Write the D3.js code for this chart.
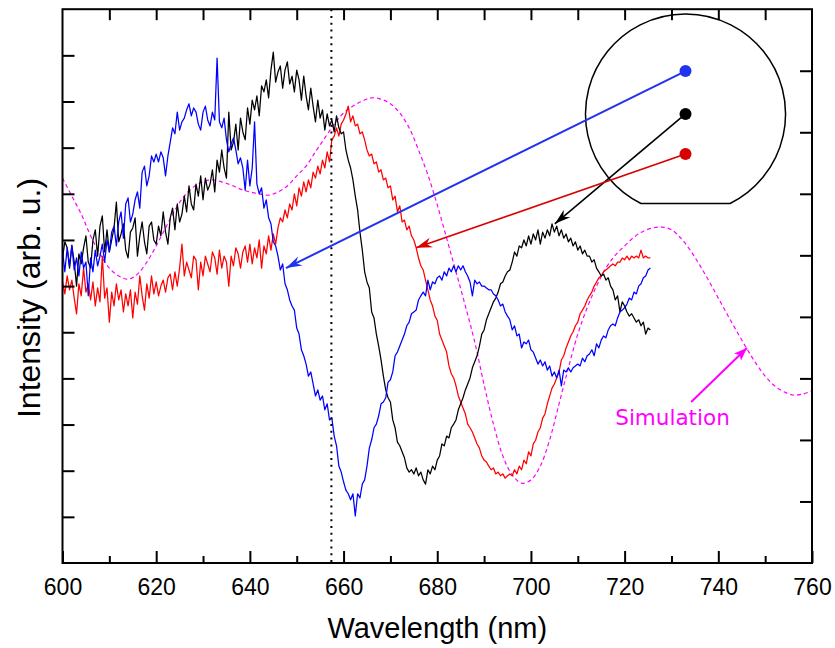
<!DOCTYPE html>
<html>
<head>
<meta charset="utf-8">
<script src="https://cdn.jsdelivr.net/npm/d3@7"></script>
<style>
  html, body { margin: 0; padding: 0; background: #ffffff; }
  svg { display: block; }
</style>
</head>
<body>
<svg id="chart" width="835" height="648"></svg>
<script>
// Measured spectra, sampled every 0.5 nm starting at 600 nm (arb. u.)
const spectrumStart = 600;
const spectrumStep = 0.5;

const blueSpectrum = [
  678, 631, 683, 644, 689, 635, 661, 622, 674, 639, 652, 579, 661, 631, 678, 644, 665, 691, 652, 700,
  674, 717, 730, 687, 739, 761, 704, 778, 791, 739, 756, 787, 804, 769, 847, 860, 817, 839, 882, 869,
  886, 869, 891, 878, 839, 882, 912, 943, 930, 977, 938, 956, 964, 982, 995, 969, 986, 977, 951, 938,
  977, 990, 960, 947, 977, 960, 1094, 956, 943, 964, 917, 891, 908, 921, 895, 865, 878, 856, 808, 873,
  817, 856, 956, 821, 800, 813, 769, 787, 748, 735, 696, 687, 665, 635, 648, 605, 592, 570, 557, 548,
  509, 496, 462, 449, 431, 405, 414, 388, 362, 375, 353, 362, 332, 345, 310, 314, 275, 254, 210, 197,
  176, 158, 150, 137, 150, 102, 150, 141, 171, 180, 210, 249, 267, 293, 301, 319, 345, 349, 358, 392,
  397, 414, 449, 457, 470, 483, 496, 514, 522, 540, 544, 548, 570, 579, 587, 579, 613, 592, 609, 605,
  618, 622, 613, 631, 622, 639, 631, 644, 631, 644, 635, 644, 631, 622, 609, 579, 613, 605, 609, 600,
  600, 596, 592, 592, 583, 579, 570, 557, 561, 544, 535, 527, 505, 514, 492, 496, 466, 479, 475, 483,
  462, 457, 444, 431, 440, 427, 436, 418, 427, 405, 414, 401, 418, 384, 418, 414, 423, 414, 423, 427,
  431, 427, 444, 436, 449, 453, 462, 449, 475, 466, 483, 492, 488, 505, 514, 518, 514, 531, 544, 548,
  553, 561, 574, 570, 587, 583, 600, 605, 618, 622, 635, 639
];

const blackSpectrum = [
  661, 696, 683, 639, 687, 652, 600, 670, 648, 683, 709, 652, 639, 700, 722, 665, 730, 752, 674, 722,
  674, 700, 726, 782, 696, 713, 735, 678, 661, 717, 726, 748, 665, 709, 739, 696, 670, 730, 739, 700,
  691, 730, 709, 761, 717, 691, 748, 769, 722, 778, 739, 756, 795, 761, 817, 778, 765, 821, 795, 839,
  787, 834, 808, 821, 852, 804, 873, 847, 895, 856, 834, 977, 895, 912, 951, 895, 964, 934, 917, 986,
  951, 1003, 982, 1012, 969, 1034, 1021, 1047, 1008, 1068, 1107, 1042, 1064, 1077, 1029, 1068, 1086, 1038, 1055, 1021,
  1068, 1047, 1003, 1055, 1012, 982, 1029, 990, 956, 1003, 964, 982, 938, 973, 947, 960, 934, 969, 943, 930,
  934, 895, 873, 856, 830, 795, 765, 717, 678, 631, 609, 596, 544, 531, 496, 470, 440, 405, 375, 358,
  349, 310, 293, 262, 254, 241, 228, 206, 197, 202, 193, 206, 189, 197, 180, 171, 202, 193, 210, 202,
  223, 232, 258, 254, 275, 271, 293, 301, 310, 332, 345, 358, 375, 388, 401, 423, 436, 449, 470, 496,
  505, 527, 540, 553, 566, 574, 587, 605, 609, 622, 631, 635, 652, 674, 665, 687, 683, 700, 687, 709,
  691, 713, 700, 722, 691, 717, 704, 722, 709, 735, 717, 730, 709, 722, 704, 713, 696, 704, 687, 696,
  678, 687, 670, 678, 665, 665, 652, 657, 639, 631, 622, 626, 613, 618, 600, 592, 570, 579, 544, 566,
  557, 544, 535, 540, 531, 522, 527, 514, 522, 496, 509, 505
];

const redSpectrum = [
  609, 583, 622, 592, 613, 574, 540, 605, 579, 639, 587, 605, 570, 609, 557, 596, 566, 665, 574, 596,
  522, 587, 557, 605, 570, 592, 544, 583, 557, 592, 531, 587, 561, 622, 579, 548, 605, 574, 622, 583,
  609, 579, 600, 613, 587, 618, 626, 592, 631, 600, 639, 691, 622, 652, 635, 618, 665, 657, 592, 652,
  622, 665, 648, 631, 674, 661, 626, 678, 639, 665, 652, 600, 665, 644, 683, 670, 639, 674, 687, 652,
  691, 648, 683, 661, 700, 639, 687, 670, 709, 678, 713, 691, 726, 748, 739, 765, 748, 778, 765, 800,
  774, 813, 795, 826, 804, 830, 813, 847, 834, 860, 843, 873, 856, 891, 869, 917, 925, 943, 925, 951,
  960, 973, 990, 956, 969, 947, 951, 930, 934, 917, 895, 882, 886, 865, 869, 847, 852, 830, 834, 813,
  817, 787, 795, 761, 774, 739, 743, 722, 730, 709, 700, 683, 661, 644, 635, 613, 592, 570, 557, 535,
  526, 496, 483, 470, 457, 427, 410, 401, 384, 362, 349, 336, 323, 301, 293, 284, 271, 258, 249, 232,
  223, 219, 210, 202, 206, 193, 197, 189, 193, 184, 189, 193, 189, 202, 193, 210, 202, 223, 215, 241,
  232, 258, 266, 284, 293, 314, 323, 345, 362, 379, 388, 401, 414, 440, 449, 466, 479, 492, 501, 514,
  522, 540, 548, 557, 570, 579, 587, 600, 609, 618, 622, 631, 635, 639, 644, 648, 644, 652, 652, 661,
  657, 665, 657, 665, 661, 665, 661, 678, 661, 665, 661, 661
];

// Simulated spectrum, every 2 nm from 600 nm to 760 nm
const simulationStart = 600;
const simulationStep = 2;
const simulationSpectrum = [
  834, 795, 756, 709, 670, 639, 622, 615, 626, 652,
  687, 726, 765, 795, 815, 826, 830, 826, 819, 810,
  804, 800, 797, 804, 817, 839, 860, 891, 921, 951,
  975, 990, 1001, 1008, 1005, 995, 975, 943, 895, 841,
  776, 704, 631, 557, 479, 386, 301, 232, 191, 173,
  180, 210, 267, 345, 423, 496, 553, 600, 639, 667,
  687, 706, 719, 726, 728, 722, 704, 678, 646, 611,
  574, 537, 501, 466, 433, 405, 384, 371, 364, 366,
  373
];

// Axis ticks
const xMajorTicks = [600, 620, 640, 660, 680, 700, 720, 740, 760];
const xMinorTicks = [610, 630, 650, 670, 690, 710, 730, 750];
const xTopTicks = [610, 620, 630, 640, 650, 660, 670, 680, 690, 700, 710, 720, 730, 740, 750];
const yLeftTicks = [100, 200, 300, 400, 500, 600, 700, 800, 900, 1000, 1100];
const yRightTicks = [1, 2, 3, 4, 5, 6, 7, 8];

// Reference wavelength marked by the dotted line (nm)
const referenceWavelength = 657.4;

// Wafer sketch with the three probe spots and where each spectrum is labelled
const waferCenter = [733.0, 973];
const waferRadiusNm = 21.35;
const waferFlatLevel = 779;
const probeSpots = [
  { name: "blue",  at: [733.0, 1066], tip: [647.7, 639] },
  { name: "black", at: [733.0, 973],  tip: [705.1, 735] },
  { name: "red",   at: [733.0, 886],  tip: [675.5, 683] }
];
const simulationLabel = { text: "Simulation", at: [718.0, 299], from: [734.2, 349], tip: [746.1, 466] };

// ---------------------------------------------------------------------------
const colors = {
  blue: "#0000ff", black: "#000000", red: "#ff0000", sim: "#ff00ff",
  spotBlue: "#2233f0", spotBlack: "#000000", spotRed: "#d80000"
};

const svg = d3.select("#chart");
const plotLeft = 62.5, plotRight = 812, plotTop = 9.2, plotBottom = 563;

const x = d3.scaleLinear().domain([600, 760]).range([plotLeft, plotRight]);
const y = d3.scaleLinear().domain([0, 1200]).range([plotBottom, plotTop]);
const yRight = d3.scaleLinear().domain([0, 9]).range([plotBottom, plotTop]);

const toPoints = (values, start, step) => values.map((v, i) => [start + i * step, v]);

const line = d3.line().x(d => x(d[0])).y(d => y(d[1]));
const smoothLine = d3.line().x(d => x(d[0])).y(d => y(d[1])).curve(d3.curveCatmullRom.alpha(0.5));

// Simulation (dashed)
svg.append("path")
  .datum(toPoints(simulationSpectrum, simulationStart, simulationStep))
  .attr("d", smoothLine)
  .attr("fill", "none")
  .attr("stroke", colors.sim)
  .attr("stroke-width", 1.2)
  .attr("stroke-dasharray", "4,3");

// Measured spectra
[[redSpectrum, colors.red], [blackSpectrum, colors.black], [blueSpectrum, colors.blue]].forEach(([vals, c]) => {
  svg.append("path")
    .datum(toPoints(vals, spectrumStart, spectrumStep))
    .attr("d", line)
    .attr("fill", "none")
    .attr("stroke", c)
    .attr("stroke-width", 1.25)
    .attr("stroke-linejoin", "round");
});

// Dotted reference line
svg.append("line")
  .attr("x1", x(referenceWavelength)).attr("x2", x(referenceWavelength))
  .attr("y1", plotTop).attr("y2", plotBottom)
  .attr("stroke", "#000")
  .attr("stroke-width", 2)
  .attr("stroke-dasharray", "2,4.8");

// Axes
const axisFont = "'Liberation Sans', Arial, Helvetica, sans-serif";

const bottomMajor = svg.append("g")
  .attr("transform", `translate(0,${plotBottom})`)
  .call(d3.axisBottom(x).tickValues(xMajorTicks).tickSize(-12).tickFormat(d3.format("d")));
bottomMajor.selectAll("text")
  .attr("y", 32).attr("dy", 0)
  .attr("font-family", axisFont).attr("font-size", 23).attr("fill", "#000");

const bottomMinor = svg.append("g")
  .attr("transform", `translate(0,${plotBottom})`)
  .call(d3.axisBottom(x).tickValues(xMinorTicks).tickSize(-7).tickFormat(""));

const topAxis = svg.append("g")
  .attr("transform", `translate(0,${plotTop})`)
  .call(d3.axisTop(x).tickValues(xTopTicks).tickSize(-11).tickFormat(""));

const leftAxis = svg.append("g")
  .attr("transform", `translate(${plotLeft},0)`)
  .call(d3.axisLeft(y).tickValues(yLeftTicks).tickSize(-12).tickFormat(""));

const rightAxis = svg.append("g")
  .attr("transform", `translate(${plotRight},0)`)
  .call(d3.axisRight(yRight).tickValues(yRightTicks).tickSize(-12).tickFormat(""));

[bottomMajor, bottomMinor, topAxis, leftAxis, rightAxis].forEach(g => {
  g.select(".domain").remove();
  g.selectAll(".tick line").attr("stroke", "#000").attr("stroke-width", 2);
});

// Plot frame
svg.append("rect")
  .attr("x", plotLeft).attr("y", plotTop)
  .attr("width", plotRight - plotLeft).attr("height", plotBottom - plotTop)
  .attr("fill", "none").attr("stroke", "#000").attr("stroke-width", 2);

// Axis titles
svg.append("text")
  .attr("x", (plotLeft + plotRight) / 2).attr("y", 638)
  .attr("text-anchor", "middle")
  .attr("font-family", axisFont).attr("font-size", 29)
  .text("Wavelength (nm)");

svg.append("text")
  .attr("transform", "translate(40,298) rotate(-90)")
  .attr("text-anchor", "middle")
  .attr("font-family", axisFont).attr("font-size", 32)
  .text("Intensity (arb. u.)");

// Arrowhead markers
const defs = svg.append("defs");
function arrowMarker(id, color, len, half, notch) {
  defs.append("marker")
    .attr("id", id)
    .attr("viewBox", `${-len - 1} ${-half - 1} ${len + 2} ${2 * half + 2}`)
    .attr("markerWidth", len + 2).attr("markerHeight", 2 * half + 2)
    .attr("markerUnits", "userSpaceOnUse")
    .attr("refX", 0).attr("refY", 0)
    .attr("orient", "auto")
    .append("path")
    .attr("d", `M0,0 L${-len},${-half} L${-len + notch},0 L${-len},${half} Z`)
    .attr("fill", color);
}
arrowMarker("arrow-blue", colors.spotBlue, 16, 5, 5);
arrowMarker("arrow-black", colors.spotBlack, 16, 5, 5);
arrowMarker("arrow-red", colors.spotRed, 16, 5, 5);
arrowMarker("arrow-sim", colors.sim, 13, 5, 3);

// Wafer outline with flat
const cx = x(waferCenter[0]), cy = y(waferCenter[1]);
const r = x(waferCenter[0] + waferRadiusNm) - x(waferCenter[0]);
const flatY = y(waferFlatLevel);
const half = Math.sqrt(r * r - (flatY - cy) * (flatY - cy));
svg.append("path")
  .attr("d", `M${cx - half},${flatY} A${r},${r} 0 1 1 ${cx + half},${flatY} Z`)
  .attr("fill", "none").attr("stroke", "#000").attr("stroke-width", 1.5);

// Probe spots and pointers
const spotColor = { blue: colors.spotBlue, black: colors.spotBlack, red: colors.spotRed };
const spotWidth = { blue: 2, black: 1.6, red: 1.6 };
probeSpots.forEach(p => {
  svg.append("line")
    .attr("x1", x(p.at[0])).attr("y1", y(p.at[1]))
    .attr("x2", x(p.tip[0])).attr("y2", y(p.tip[1]))
    .attr("stroke", spotColor[p.name]).attr("stroke-width", spotWidth[p.name])
    .attr("marker-end", `url(#arrow-${p.name})`);
});
probeSpots.forEach(p => {
  svg.append("circle")
    .attr("cx", x(p.at[0])).attr("cy", y(p.at[1])).attr("r", 6)
    .attr("fill", spotColor[p.name]);
});

// Simulation label and pointer
svg.append("line")
  .attr("x1", x(simulationLabel.from[0])).attr("y1", y(simulationLabel.from[1]))
  .attr("x2", x(simulationLabel.tip[0])).attr("y2", y(simulationLabel.tip[1]))
  .attr("stroke", colors.sim).attr("stroke-width", 2)
  .attr("marker-end", "url(#arrow-sim)");
svg.append("text")
  .attr("x", x(simulationLabel.at[0])).attr("y", y(simulationLabel.at[1]))
  .attr("font-family", "'DejaVu Sans', Verdana, sans-serif").attr("font-size", 21.5)
  .attr("fill", colors.sim)
  .text(simulationLabel.text);
</script>
</body>
</html>
